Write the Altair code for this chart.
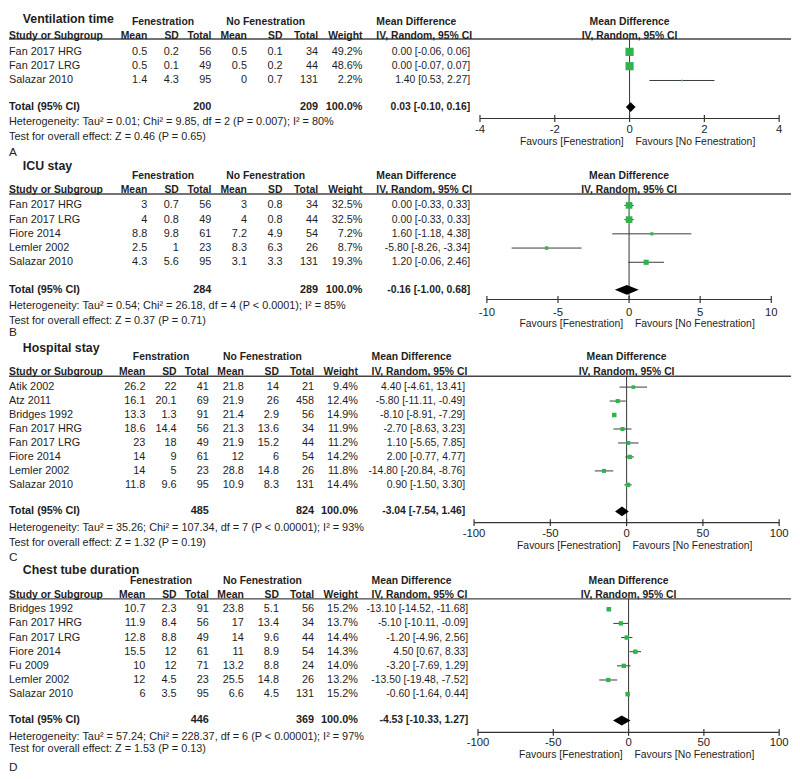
import altair as alt
import pandas as pd

FONT = "Liberation Sans, Arial, Helvetica, sans-serif"
TXT = "#1e1e1e"
GREEN = "#2fb34a"
LINE = "#333333"
W = 792

# ---------------- data ----------------
# A. Ventilation time
VT_STUDIES = ["Fan 2017 HRG", "Fan 2017 LRG", "Salazar 2010"]
VT_MEAN_F = [0.5, 0.5, 1.4]
VT_SD_F = [0.2, 0.1, 4.3]
VT_N_F = [56, 49, 95]
VT_MEAN_N = [0.5, 0.5, 0]
VT_SD_N = [0.1, 0.2, 0.7]
VT_N_N = [34, 44, 131]
VT_WEIGHT = [49.2, 48.6, 2.2]
VT_MD = [0.00, 0.00, 1.40]
VT_LO = [-0.06, -0.07, 0.53]
VT_HI = [0.06, 0.07, 2.27]
VT_TOTALS = [200, 209]
VT_POOLED = [0.03, -0.10, 0.16]
VT_HET = "Heterogeneity: Tau\u00b2 = 0.01; Chi\u00b2 = 9.85, df = 2 (P = 0.007); I\u00b2 = 80%"
VT_TEST = "Test for overall effect: Z = 0.46 (P = 0.65)"
VT_TICKS = [-4, -2, 0, 2, 4]

# B. ICU stay
ICU_STUDIES = ["Fan 2017 HRG", "Fan 2017 LRG", "Fiore 2014", "Lemler 2002", "Salazar 2010"]
ICU_MEAN_F = [3, 4, 8.8, 2.5, 4.3]
ICU_SD_F = [0.7, 0.8, 9.8, 1, 5.6]
ICU_N_F = [56, 49, 61, 23, 95]
ICU_MEAN_N = [3, 4, 7.2, 8.3, 3.1]
ICU_SD_N = [0.8, 0.8, 4.9, 6.3, 3.3]
ICU_N_N = [34, 44, 54, 26, 131]
ICU_WEIGHT = [32.5, 32.5, 7.2, 8.7, 19.3]
ICU_MD = [0.00, 0.00, 1.60, -5.80, 1.20]
ICU_LO = [-0.33, -0.33, -1.18, -8.26, -0.06]
ICU_HI = [0.33, 0.33, 4.38, -3.34, 2.46]
ICU_TOTALS = [284, 289]
ICU_POOLED = [-0.16, -1.00, 0.68]
ICU_HET = "Heterogeneity: Tau\u00b2 = 0.54; Chi\u00b2 = 26.18, df = 4 (P < 0.0001); I\u00b2 = 85%"
ICU_TEST = "Test for overall effect: Z = 0.37 (P = 0.71)"
ICU_TICKS = [-10, -5, 0, 5, 10]

# C. Hospital stay
HS_STUDIES = ["Atik 2002", "Atz 2011", "Bridges 1992", "Fan 2017 HRG", "Fan 2017 LRG",
              "Fiore 2014", "Lemler 2002", "Salazar 2010"]
HS_MEAN_F = [26.2, 16.1, 13.3, 18.6, 23, 14, 14, 11.8]
HS_SD_F = [22, 20.1, 1.3, 14.4, 18, 9, 5, 9.6]
HS_N_F = [41, 69, 91, 56, 49, 61, 23, 95]
HS_MEAN_N = [21.8, 21.9, 21.4, 21.3, 21.9, 12, 28.8, 10.9]
HS_SD_N = [14, 26, 2.9, 13.6, 15.2, 6, 14.8, 8.3]
HS_N_N = [21, 458, 56, 34, 44, 54, 26, 131]
HS_WEIGHT = [9.4, 12.4, 14.9, 11.9, 11.2, 14.2, 11.8, 14.4]
HS_MD = [4.40, -5.80, -8.10, -2.70, 1.10, 2.00, -14.80, 0.90]
HS_LO = [-4.61, -11.11, -8.91, -8.63, -5.65, -0.77, -20.84, -1.50]
HS_HI = [13.41, -0.49, -7.29, 3.23, 7.85, 4.77, -8.76, 3.30]
HS_TOTALS = [485, 824]
HS_POOLED = [-3.04, -7.54, 1.46]
HS_HET = "Heterogeneity: Tau\u00b2 = 35.26; Chi\u00b2 = 107.34, df = 7 (P < 0.00001); I\u00b2 = 93%"
HS_TEST = "Test for overall effect: Z = 1.32 (P = 0.19)"
HS_TICKS = [-100, -50, 0, 50, 100]

# D. Chest tube duration
CT_STUDIES = ["Bridges 1992", "Fan 2017 HRG", "Fan 2017 LRG", "Fiore 2014", "Fu 2009",
              "Lemler 2002", "Salazar 2010"]
CT_MEAN_F = [10.7, 11.9, 12.8, 15.5, 10, 12, 6]
CT_SD_F = [2.3, 8.4, 8.8, 12, 12, 4.5, 3.5]
CT_N_F = [91, 56, 49, 61, 71, 23, 95]
CT_MEAN_N = [23.8, 17, 14, 11, 13.2, 25.5, 6.6]
CT_SD_N = [5.1, 13.4, 9.6, 8.9, 8.8, 14.8, 4.5]
CT_N_N = [56, 34, 44, 54, 24, 26, 131]
CT_WEIGHT = [15.2, 13.7, 14.4, 14.3, 14.0, 13.2, 15.2]
CT_MD = [-13.10, -5.10, -1.20, 4.50, -3.20, -13.50, -0.60]
CT_LO = [-14.52, -10.11, -4.96, 0.67, -7.69, -19.48, -1.64]
CT_HI = [-11.68, -0.09, 2.56, 8.33, 1.29, -7.52, 0.44]
CT_TOTALS = [446, 369]
CT_POOLED = [-4.53, -10.33, 1.27]
CT_HET = "Heterogeneity: Tau\u00b2 = 57.24; Chi\u00b2 = 228.37, df = 6 (P < 0.00001); I\u00b2 = 97%"
CT_TEST = "Test for overall effect: Z = 1.53 (P = 0.13)"
CT_TICKS = [-100, -50, 0, 50, 100]

# ---------------- layout ----------------
COLS = {"mf": 140, "sdf": 172, "nf": 205, "mn": 241, "sdn": 277, "nn": 313, "wt": 358}
MDHEAD_X = 372
GROUP_F_X = 156
GROUP_N_X = 260
ONE = pd.DataFrame({"z": [0]})


def fmt(v):
    return f"{v:g}"


def make_panel(title, group_f, label, studies, mf, sdf, nf, mn, sdn, nn, w, md, lo, hi,
               totals, pooled, het, test, ticks, L):
    s = L["cs"]
    cx = {k: v * s for k, v in COLS.items()}
    cx["ci"] = L["ci"]
    n = len(studies)
    ys = alt.Scale(domain=[0, 1], range=[L["row0"], L["row0"] + L["step"]], nice=False, zero=False)
    xs = alt.Scale(domain=[ticks[0], ticks[-1]], range=L["xr"], nice=False, zero=False)

    rows = pd.DataFrame({
        "r": list(range(n)),
        "study": studies,
        "mf": [fmt(v) for v in mf], "sdf": [fmt(v) for v in sdf], "nf": [str(v) for v in nf],
        "mn": [fmt(v) for v in mn], "sdn": [fmt(v) for v in sdn], "nn": [str(v) for v in nn],
        "wt": [f"{v:.1f}%" for v in w], "w": w,
        "md": md, "lo": lo, "hi": hi,
        "ci": [f"{m:.2f} [{a:.2f}, {b:.2f}]" for m, a, b in zip(md, lo, hi)],
    })
    rt = n - 1 + L["gap"]
    tot = pd.DataFrame({
        "r": [rt], "study": ["Total (95% CI)"], "nf": [str(totals[0])], "nn": [str(totals[1])],
        "wt": ["100.0%"], "ci": [f"{pooled[0]:.2f} [{pooled[1]:.2f}, {pooled[2]:.2f}]"],
    })
    h = 5.0 / L["step"]
    dia = pd.DataFrame({
        "x": [pooled[1], pooled[0], pooled[2]],
        "y": [rt, rt - h, rt],
        "y2": [rt, rt + h, rt],
    })
    tick_df = pd.DataFrame({"t": ticks, "lab": [str(t) for t in ticks]})
    ax_df = pd.DataFrame({"a": [ticks[0]], "b": [ticks[-1]]})

    def col_text(df, field, x, align="right", bold=False, size=11):
        return alt.Chart(df).mark_text(
            align=align, baseline="middle", font=FONT, fontSize=size,
            fontWeight="bold" if bold else "normal", color=TXT
        ).encode(x=alt.value(x), y=alt.Y("r:Q", scale=ys, axis=None), text=f"{field}:N")

    def lab(text, x, y, align="left", bold=False, size=11):
        return alt.Chart(ONE).mark_text(
            text=text, align=align, baseline="middle", font=FONT, fontSize=size,
            fontWeight="bold" if bold else "normal", color=TXT
        ).encode(x=alt.value(x), y=alt.value(y))

    def zlab(text, y, align="center", dx=0, bold=False, size=11):
        return alt.Chart(ONE).mark_text(
            text=text, align=align, baseline="middle", font=FONT, fontSize=size, dx=dx,
            fontWeight="bold" if bold else "normal", color=TXT
        ).encode(x=alt.X("z:Q", scale=xs, axis=None), y=alt.value(y))

    layers = []
    # header rule
    layers.append(alt.Chart(ONE).mark_rule(color="#444444", strokeWidth=1.4).encode(
        x=alt.value(0), x2=alt.value(W), y=alt.value(L["rule"])))
    # zero line
    layers.append(alt.Chart(ONE).mark_rule(color=LINE, strokeWidth=1).encode(
        x=alt.X("z:Q", scale=xs, axis=None), y=alt.value(L["rule"]), y2=alt.value(L["axis"])))
    # axis
    layers.append(alt.Chart(ax_df).mark_rule(color=LINE, strokeWidth=1.2).encode(
        x=alt.X("a:Q", scale=xs, axis=None), x2="b:Q", y=alt.value(L["axis"])))
    layers.append(alt.Chart(tick_df).mark_rule(color=LINE, strokeWidth=1.2).encode(
        x=alt.X("t:Q", scale=xs, axis=None), y=alt.value(L["axis"] - 3.5), y2=alt.value(L["axis"] + 3.5)))
    layers.append(alt.Chart(tick_df).mark_text(
        baseline="middle", align="center", font=FONT, fontSize=11.5, color=TXT).encode(
        x=alt.X("t:Q", scale=xs, axis=None), y=alt.value(L["tl"]), text="lab:N"))
    layers.append(zlab("Favours [Fenestration]", L["fav"], align="right", dx=-6, size=10.5))
    layers.append(zlab("Favours [No Fenestration]", L["fav"], align="left", dx=6, size=10.5))
    # CI lines
    layers.append(alt.Chart(rows).mark_rule(color="#3a3a3a", strokeWidth=1).encode(
        x=alt.X("lo:Q", scale=xs, axis=None), x2="hi:Q", y=alt.Y("r:Q", scale=ys, axis=None)))
    # squares
    layers.append(alt.Chart(rows).mark_square(color=GREEN, opacity=1).encode(
        x=alt.X("md:Q", scale=xs, axis=None), y=alt.Y("r:Q", scale=ys, axis=None),
        size=alt.Size("w:Q", scale=alt.Scale(type="linear", domain=[0, 100], range=[0, 140]), legend=None)))
    # diamond
    layers.append(alt.Chart(dia).mark_area(color="black", opacity=1).encode(
        x=alt.X("x:Q", scale=xs, axis=None),
        y=alt.Y("y:Q", scale=ys, axis=None, stack=None), y2="y2:Q"))
    # table text
    layers.append(col_text(rows, "study", 0, align="left"))
    for k in ["mf", "sdf", "nf", "mn", "sdn", "nn", "wt"]:
        layers.append(col_text(rows, k, cx[k]))
    layers.append(col_text(rows, "ci", cx["ci"], size=10.5))
    layers.append(col_text(tot, "study", 0, align="left", bold=True))
    for k in ["nf", "nn", "wt"]:
        layers.append(col_text(tot, k, cx[k], bold=True))
    layers.append(col_text(tot, "ci", cx["ci"], bold=True, size=10.5))
    # headers
    layers.append(lab(title, 14, L["title"], bold=True, size=12.5))
    layers.append(lab(group_f, GROUP_F_X * s, L["group"], align="center", bold=True, size=10.5))
    layers.append(lab("No Fenestration", GROUP_N_X * s, L["group"], align="center", bold=True, size=10.5))
    layers.append(lab("Mean Difference", MDHEAD_X * s, L["group"], bold=True, size=10.5))
    layers.append(lab("Study or Subgroup", 0, L["head"], bold=True, size=10.5))
    for t, k in [("Mean", "mf"), ("SD", "sdf"), ("Total", "nf"), ("Mean", "mn"),
                 ("SD", "sdn"), ("Total", "nn"), ("Weight", "wt")]:
        layers.append(lab(t, cx[k], L["head"], align="right", bold=True, size=10.5))
    layers.append(lab("IV, Random, 95% CI", MDHEAD_X * s, L["head"], bold=True, size=10.5))
    layers.append(zlab("Mean Difference", L["group"], bold=True, size=10.5))
    layers.append(zlab("IV, Random, 95% CI", L["head"], bold=True, size=10.5))
    # footer
    layers.append(lab(het, 0, L["het"]))
    layers.append(lab(test, 0, L["test"]))
    layers.append(lab(label, 0, L["label"], size=12))

    return alt.layer(*layers).properties(width=W, height=L["H"])


LA = dict(H=142, cs=1.0, ci=467, title=6.5, group=9.5, head=23, rule=26.5, row0=39.5, step=14.5, gap=1.86,
          het=111, test=126, label=140.5, axis=107, tl=119, fav=131, xr=[477, 780])
LB = dict(H=180, cs=1.0, ci=467, title=13.5, group=23.5, head=37.5, rule=41.5, row0=53, step=14.4, gap=1.94,
          het=155, test=170, label=181, axis=148.3, tl=161.7, fav=173.3, xr=[484, 772])
LC = dict(H=210, cs=0.987, ci=462, title=17, group=27, head=42, rule=46, row0=57, step=14.15, gap=1.9,
          het=200, test=215, label=229, axis=194.3, tl=206, fav=218.3, xr=[471, 780])
LD = dict(H=239, cs=0.987, ci=465, title=32.5, group=43.5, head=57.5, rule=61.5, row0=72, step=14.33, gap=1.86,
          het=201, test=213.5, label=232, axis=196.7, tl=207.5, fav=220, xr=[475, 780])

pA = make_panel("Ventilation time", "Fenestration", "A", VT_STUDIES, VT_MEAN_F, VT_SD_F, VT_N_F,
                VT_MEAN_N, VT_SD_N, VT_N_N, VT_WEIGHT, VT_MD, VT_LO, VT_HI, VT_TOTALS, VT_POOLED,
                VT_HET, VT_TEST, VT_TICKS, LA)
pB = make_panel("ICU stay", "Fenestration", "B", ICU_STUDIES, ICU_MEAN_F, ICU_SD_F, ICU_N_F,
                ICU_MEAN_N, ICU_SD_N, ICU_N_N, ICU_WEIGHT, ICU_MD, ICU_LO, ICU_HI, ICU_TOTALS, ICU_POOLED,
                ICU_HET, ICU_TEST, ICU_TICKS, LB)
pC = make_panel("Hospital stay", "Fenstration", "C", HS_STUDIES, HS_MEAN_F, HS_SD_F, HS_N_F,
                HS_MEAN_N, HS_SD_N, HS_N_N, HS_WEIGHT, HS_MD, HS_LO, HS_HI, HS_TOTALS, HS_POOLED,
                HS_HET, HS_TEST, HS_TICKS, LC)
pD = make_panel("Chest tube duration", "Fenestration", "D", CT_STUDIES, CT_MEAN_F, CT_SD_F, CT_N_F,
                CT_MEAN_N, CT_SD_N, CT_N_N, CT_WEIGHT, CT_MD, CT_LO, CT_HI, CT_TOTALS, CT_POOLED,
                CT_HET, CT_TEST, CT_TICKS, LD)

chart = alt.vconcat(pA, pB, pC, pD, spacing=0, bounds="flush").resolve_scale(
    x="independent", y="independent", size="independent"
).configure_view(stroke=None).properties(padding=0, background="white")

chart.save("out.html", embed_options={"renderer": "svg", "actions": False})
